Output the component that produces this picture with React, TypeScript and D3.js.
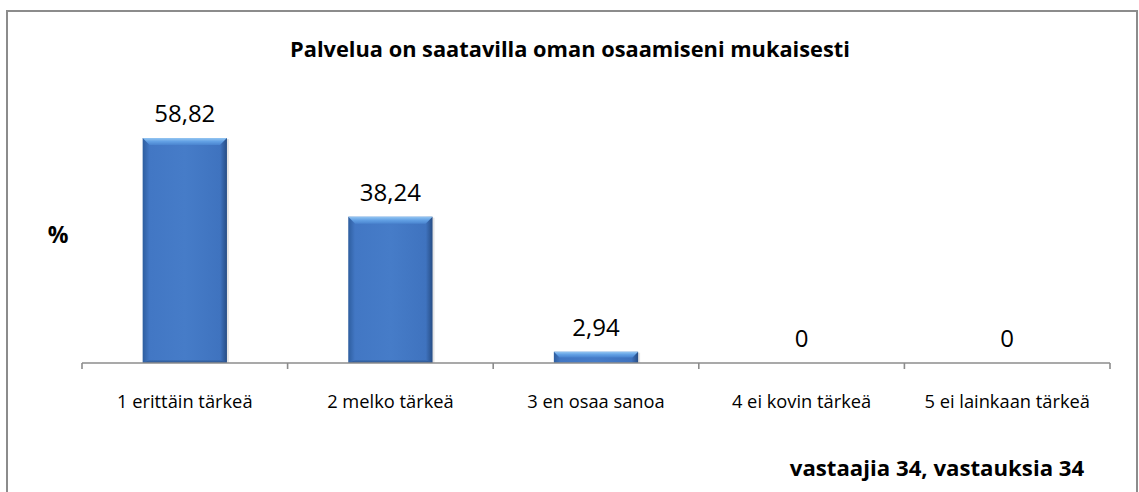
import React from "react";
import * as d3 from "d3";

const categories = ["1 erittäin tärkeä", "2 melko tärkeä", "3 en osaa sanoa", "4 ei kovin tärkeä", "5 ei lainkaan tärkeä"];
const values = [58.82, 38.24, 2.94, 0, 0];
const valueLabels = ["58,82", "38,24", "2,94", "0", "0"];
const title = "Palvelua on saatavilla oman osaamiseni mukaisesti";
const yAxisTitle = "%";
const footer = "vastaajia 34, vastauksia 34";

const W = 1139;
const H = 492;
const FONT = "'Open Sans', 'DejaVu Sans', sans-serif";

export default function App() {
  const x = d3.scaleBand<string>().domain(categories).range([82, 1110]).paddingInner(0.59).paddingOuter(0.295);
  const xOuter = d3.scaleBand<string>().domain(categories).range([82, 1110]);
  const y = d3.scaleLinear().domain([0, 60]).range([363, 133.5]);
  const bw = x.bandwidth();
  const ticks = [...categories.map((c) => xOuter(c) as number), 1110];

  return (
    <svg width={W} height={H} style={{ position: "absolute", left: 0, top: 0, background: "#fff" }}>
      <defs>
        <linearGradient id="barH" x1="0" x2="1" y1="0" y2="0">
          <stop offset="0" stopColor="#2e5e9f" />
          <stop offset="0.08" stopColor="#4277c4" />
          <stop offset="0.5" stopColor="#467cc8" />
          <stop offset="0.92" stopColor="#3f73bf" />
          <stop offset="1" stopColor="#274d85" />
        </linearGradient>
        <linearGradient id="bevelTop" x1="0" x2="0" y1="0" y2="1">
          <stop offset="0" stopColor="#94c6f2" />
          <stop offset="0.5" stopColor="#62a0e4" />
          <stop offset="1" stopColor="#4a84cf" />
        </linearGradient>
        <linearGradient id="bevelBottom" x1="0" x2="0" y1="0" y2="1">
          <stop offset="0" stopColor="#34629f" />
          <stop offset="1" stopColor="#1f3f70" />
        </linearGradient>
      </defs>
      <rect x={7} y={11} width={1130} height={500} fill="#fff" stroke="#8c8c8c" strokeWidth={2} />
      <text x={570} y={57} textAnchor="middle" fontFamily={FONT} fontWeight="bold" fontSize={21.8} fill="#000">
        {title}
      </text>
      <text x={58} y={243} textAnchor="middle" fontFamily={FONT} fontWeight="bold" fontSize={23} fill="#000">
        {yAxisTitle}
      </text>
      {categories.map((c, i) => {
        const bx = x(c) as number;
        const top = y(values[i]);
        const h = y(0) - top;
        const bev = Math.min(7, h / 2);
        return (
          <g key={c}>
            {h > 0 && (
              <g>
                <rect x={bx + 2} y={top + 1} width={bw} height={h - 1} fill="#000" opacity={0.1} />
                <rect x={bx} y={top} width={bw} height={h} fill="url(#barH)" />
                <path
                  d={`M${bx},${top}L${bx + bw},${top}L${bx + bw - bev},${top + bev}L${bx + bev},${top + bev}Z`}
                  fill="url(#bevelTop)"
                />
                {h > 14 && (
                  <path
                    d={`M${bx},${y(0)}L${bx + bev},${y(0) - bev * 0.4}L${bx + bw - bev},${y(0) - bev * 0.4}L${bx + bw},${y(0)}Z`}
                    fill="url(#bevelBottom)"
                    opacity={0.6}
                  />
                )}
              </g>
            )}
            <text
              x={bx + bw / 2}
              y={top - 16}
              textAnchor="middle"
              fontFamily={FONT}
              fontSize={24}
              fill="#000"
            >
              {valueLabels[i]}
            </text>
            <text
              x={(xOuter(c) as number) + xOuter.bandwidth() / 2}
              y={408}
              textAnchor="middle"
              fontFamily={FONT}
              fontSize={18.3}
              fill="#000"
            >
              {c}
            </text>
          </g>
        );
      })}
      <line x1={82} x2={1110} y1={363} y2={363} stroke="#8c8c8c" strokeWidth={1.6} />
      {ticks.map((t, i) => (
        <line key={i} x1={t} x2={t} y1={363} y2={369} stroke="#8c8c8c" strokeWidth={1.6} />
      ))}
      <text x={937} y={476} textAnchor="middle" fontFamily={FONT} fontWeight="bold" fontSize={22.2} fill="#000">
        {footer}
      </text>
    </svg>
  );
}
